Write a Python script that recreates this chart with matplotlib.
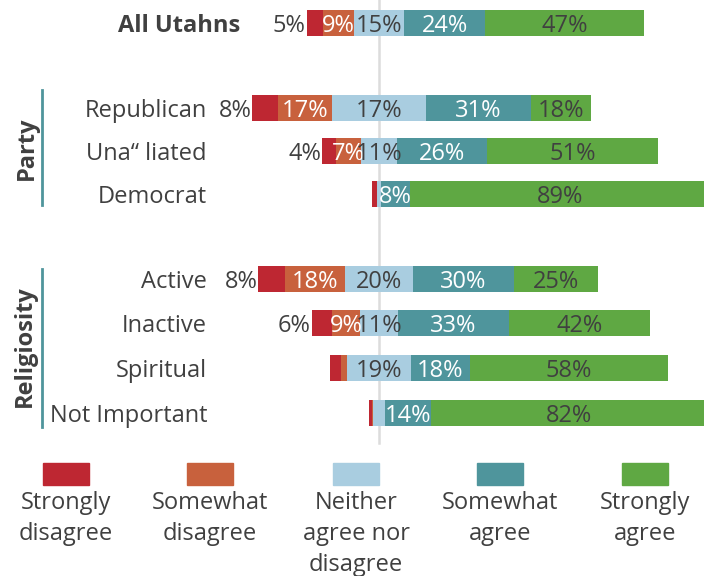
import matplotlib
matplotlib.use("Agg")
import matplotlib.pyplot as plt
from matplotlib.patches import Rectangle

plt.rcParams["font.family"] = ["Open Sans", "DejaVu Sans"]

# ---------------------------------------------
# Data (bar widths in %)
# ---------------------------------------------
categories = ["All Utahns", "Republican", "Una\u201c liated", "Democrat",
              "Active", "Inactive", "Spiritual", "Not Important"]
row_pos = [0, 1.96, 2.95, 3.94, 5.9, 6.92, 7.95, 8.98]

strongly_disagree = [5, 7.7, 4, 1.5, 8, 6, 3.2, 1]
somewhat_disagree = [9, 16, 7.7, 0, 17.8, 8.5, 2, 0.2]
neither = [15, 28, 10.4, 1.4, 20, 11, 18.7, 3.8]
somewhat_agree = [24, 31, 26.7, 8.5, 30, 33, 17.8, 13.6]
strongly_agree = [47, 18, 51, 89, 25, 42, 58.5, 82]

# printed labels (None = no label shown)
lab_sd = ["5%", "8%", "4%", None, "8%", "6%", None, None]
lab_swd = ["9%", "17%", "7%", None, "18%", "9%", None, None]
lab_n = ["15%", "17%", "11%", None, "20%", "11%", "19%", None]
lab_swa = ["24%", "31%", "26%", "8%", "30%", "33%", "18%", "14%"]
lab_sa = ["47%", "18%", "51%", "89%", "25%", "42%", "58%", "82%"]

legend_labels = ["Strongly\ndisagree", "Somewhat\ndisagree",
                 "Neither\nagree nor\ndisagree", "Somewhat\nagree",
                 "Strongly\nagree"]
colors = ["#BE2732", "#C8613D", "#A9CDE0", "#4F959C", "#5FA843"]
text_dark = "#404040"

# ---------------------------------------------
# Figure / axes in pixel-like units
# ---------------------------------------------
W, H = 704, 576
fig = plt.figure(figsize=(W / 100, H / 100), dpi=100)
ax = fig.add_axes([0, 0, 1, 1])
px_per_pct = 3.37
center_px = 379
row_px = 43.4
top_px = 23
ax.set_xlim(-center_px / px_per_pct, (W - center_px) / px_per_pct)
ax.set_ylim((H - top_px) / row_px, -top_px / row_px)
ax.axis("off")

ax.axvline(0, ymin=1 - 443 / H, ymax=1, color="#dcdcdc", lw=1.8, zorder=0)

series = [strongly_disagree, somewhat_disagree, neither, somewhat_agree, strongly_agree]
labels = [lab_sd, lab_swd, lab_n, lab_swa, lab_sa]
txt_colors = [text_dark, "white", text_dark, "white", text_dark]
fs = 17

for i, y in enumerate(row_pos):
    left = -(strongly_disagree[i] + somewhat_disagree[i] + neither[i] / 2)
    start = left
    for k, vals in enumerate(series):
        w = vals[i]
        ax.barh(y, w, left=left, height=0.6, color=colors[k], zorder=2)
        lab = labels[k][i]
        if lab is not None:
            if k == 0:
                ax.text(start - 0.2, y, lab, ha="right", va="center_baseline",
                        fontsize=fs, color=text_dark, zorder=3)
            else:
                ax.text(left + w / 2, y, lab, ha="center", va="center_baseline",
                        fontsize=fs, color=txt_colors[k], zorder=3)
        left += w

# category labels
ax.text(-(center_px - 240) / px_per_pct, row_pos[0], categories[0],
        ha="right", va="center_baseline", fontsize=fs, fontweight="bold",
        color=text_dark)
for i in range(1, len(categories)):
    ax.text(-(center_px - 207) / px_per_pct, row_pos[i], categories[i],
            ha="right", va="center_baseline", fontsize=fs, color=text_dark)

# group labels and brackets
fig.add_artist(plt.Line2D([42 / W, 42 / W], [1 - 90 / H, 1 - 205 / H],
                          color="#4F959C", lw=2))
fig.add_artist(plt.Line2D([42 / W, 42 / W], [1 - 269 / H, 1 - 427 / H],
                          color="#4F959C", lw=2))
fig.text(27 / W, 1 - 148 / H, "Party", rotation=90, ha="center", va="center",
         fontsize=fs, fontweight="bold", color=text_dark)
fig.text(25 / W, 1 - 346 / H, "Religiosity", rotation=90, ha="center",
         va="center", fontsize=fs, fontweight="bold", color=text_dark)

# legend
legend_x = [66, 210, 356, 500, 645]
for k, cx in enumerate(legend_x):
    fig.add_artist(Rectangle(((cx - 23) / W, 1 - 485 / H), 46 / W, 22 / H,
                             color=colors[k], transform=fig.transFigure))
    fig.text(cx / W, 1 - 491 / H, legend_labels[k], ha="center", va="top",
             fontsize=fs, color=text_dark, linespacing=1.4)

fig.savefig("out.png", dpi=100)
